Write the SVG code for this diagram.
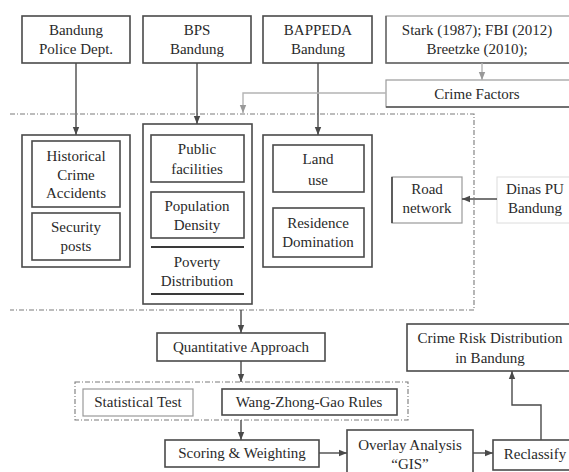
<svg xmlns="http://www.w3.org/2000/svg" width="569" height="472" viewBox="0 0 569 472">
<style>
  text { font-family: "Times New Roman", "Liberation Serif", Times, "DejaVu Serif", serif; font-size: 15px; fill: #2a2a2a; text-anchor: middle; }
  .box { fill: #ffffff; stroke: #4a4a4a; stroke-width: 1.6; }
  .lbox { fill: #ffffff; stroke: #9a9a9a; stroke-width: 1.2; }
  .grp { fill: none; stroke: #4a4a4a; stroke-width: 1.6; }
  .dash { fill: none; stroke: #7a7a7a; stroke-width: 1.1; stroke-dasharray: 5 2 1 2; }
  .con { fill: none; stroke: #4a4a4a; stroke-width: 1.4; }
  .lcon { fill: none; stroke: #b4b4b4; stroke-width: 1.4; }
</style>
<defs>
  <marker id="arr" viewBox="0 0 10 10" refX="10" refY="5" markerWidth="6" markerHeight="6" orient="auto">
    <path d="M0,1 L10,5 L0,9 z" fill="#4a4a4a"/>
  </marker>
  <marker id="larr" viewBox="0 0 10 10" refX="10" refY="5" markerWidth="6" markerHeight="6" orient="auto">
    <path d="M0,1 L10,5 L0,9 z" fill="#999"/>
  </marker>
</defs>
<rect width="569" height="472" fill="#ffffff"/>

<!-- dashed frames -->
<g id="frames">
  <path class="dash" d="M10,114 H474 V310 H10"/>
  <rect class="dash" x="75" y="382" width="333" height="38"/>
</g>

<!-- sources -->
<g id="police"><rect class="box" x="22" y="16" width="108" height="47"/><text x="76" y="35">Bandung</text><text x="76" y="54">Police Dept.</text></g>
<g id="bps"><rect class="box" x="143" y="16" width="108" height="47"/><text x="197" y="35">BPS</text><text x="197" y="54">Bandung</text></g>
<g id="bappeda"><rect class="box" x="263" y="16" width="109" height="47"/><text x="318" y="35">BAPPEDA</text><text x="318" y="54">Bandung</text></g>
<g id="stark"><rect class="lbox" x="386" y="16" width="190" height="47" stroke="#cfcfcf"/><path d="M386,16 V63 H569" stroke="#666" stroke-width="1.4" fill="none"/><text x="477" y="35">Stark (1987); FBI (2012)</text><text x="477" y="54">Breetzke (2010);</text></g>
<g id="crimefactors"><rect class="lbox" x="386" y="80" width="190" height="27"/><path d="M386,107 H569" stroke="#555" stroke-width="1.6"/><text x="477" y="99">Crime Factors</text></g>

<!-- police group -->
<g id="policeGroup"><rect class="grp" x="22" y="135" width="108" height="132" stroke="#777"/></g>
<g id="historical"><rect class="box" x="32" y="141" width="88" height="66"/><text x="76" y="161">Historical</text><text x="76" y="180">Crime</text><text x="76" y="198">Accidents</text></g>
<g id="security"><rect class="box" x="32" y="213" width="88" height="47"/><text x="76" y="232">Security</text><text x="76" y="251">posts</text></g>

<!-- BPS group -->
<g id="bpsGroup"><rect class="grp" x="143" y="124" width="109" height="180"/></g>
<g id="public"><rect class="box" x="151" y="135" width="93" height="47"/><text x="197" y="154">Public</text><text x="197" y="174">facilities</text></g>
<g id="population"><rect class="box" x="151" y="192" width="93" height="46"/><text x="197" y="211">Population</text><text x="197" y="230">Density</text></g>
<g id="poverty"><path d="M151,247 H244 M151,294 H244" stroke="#3a3a3a" stroke-width="2"/><text x="197" y="267">Poverty</text><text x="197" y="286">Distribution</text></g>

<!-- BAPPEDA group -->
<g id="bappedaGroup"><rect class="grp" x="263" y="135" width="109" height="132"/></g>
<g id="landuse"><rect class="box" x="273" y="145" width="91" height="47"/><text x="318" y="164">Land</text><text x="318" y="185">use</text></g>
<g id="residence"><rect class="box" x="273" y="208" width="91" height="49"/><text x="318" y="228">Residence</text><text x="318" y="247">Domination</text></g>

<!-- road / dinas -->
<g id="road"><rect class="lbox" x="392" y="177" width="70" height="46"/><path d="M392,177 V223" stroke="#444" stroke-width="1.6"/><text x="427" y="194">Road</text><text x="427" y="213">network</text></g>
<g id="dinas"><rect x="497" y="177" width="80" height="46" fill="#fff" stroke="#dcdcdc" stroke-width="1"/><text x="535" y="194">Dinas PU</text><text x="535" y="213">Bandung</text></g>

<!-- process -->
<g id="quant"><rect class="box" x="157" y="333" width="168" height="28"/><text x="241" y="352">Quantitative Approach</text></g>
<g id="stat"><rect class="lbox" x="83" y="389" width="110" height="27"/><text x="138" y="407">Statistical Test</text></g>
<g id="wang"><rect class="box" x="222" y="389" width="175" height="26"/><text x="309" y="407">Wang-Zhong-Gao Rules</text></g>
<g id="scoring"><rect class="box" x="165" y="440" width="154" height="27"/><text x="242" y="458">Scoring &amp; Weighting</text></g>
<g id="overlay"><rect class="box" x="347" y="430" width="126" height="50"/><text x="410" y="450">Overlay Analysis</text><text x="410" y="469">“GIS”</text></g>
<g id="reclassify"><rect class="box" x="493" y="440" width="90" height="30"/><text x="535" y="459">Reclassify</text></g>
<g id="crimerisk"><rect class="box" x="407" y="324" width="175" height="47"/><text x="490" y="343">Crime Risk Distribution</text><text x="490" y="363">in Bandung</text></g>

<!-- connectors -->
<g id="connectors">
  <path class="con" d="M76,63 V135" marker-end="url(#arr)"/>
  <path class="con" d="M197,63 V124" marker-end="url(#arr)"/>
  <path class="con" d="M318,63 V135" marker-end="url(#arr)"/>
  <path class="lcon" d="M482,63 V80" marker-end="url(#larr)"/>
  <path class="lcon" d="M386,93 H243 V113" marker-end="url(#larr)"/>
  <path class="con" d="M497,199 H462" marker-end="url(#arr)"/>
  <path class="con" d="M241,310 V333" marker-end="url(#arr)"/>
  <path class="con" d="M241,361 V382" marker-end="url(#arr)"/>
  <path class="con" d="M241,420 V440" marker-end="url(#arr)"/>
  <path class="con" d="M319,453 H347" marker-end="url(#arr)"/>
  <path class="con" d="M473,453 H493" marker-end="url(#arr)"/>
  <path class="con" d="M541,440 V405 H512 V371" marker-end="url(#arr)"/>
</g>
</svg>
